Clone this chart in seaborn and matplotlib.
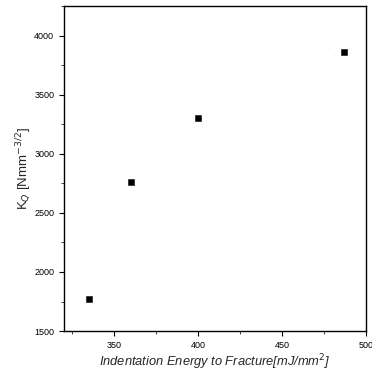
import numpy as np
import pandas as pd
import matplotlib
matplotlib.use("Agg")
import matplotlib.pyplot as plt
import seaborn as sns
from matplotlib.ticker import MultipleLocator

# measured points
energy = [335, 360, 400, 486.7]
kq = [1770, 2763, 3300, 3864]

# faint trend curve
trend_x = [341, 352, 380, 419, 450, 474, 490]
trend_y = [1990, 2440, 3000, 3432, 3640, 3788, 3880]

df = pd.DataFrame({"energy": energy, "kq": kq})

sns.set_style("ticks")
plt.rcParams['font.family'] = ['Liberation Sans', 'DejaVu Sans']

fig, ax = plt.subplots(figsize=(3.72, 3.72), dpi=100)
fig.subplots_adjust(left=0.172, right=0.984, top=0.984, bottom=0.11)

ax.plot(trend_x, trend_y, linestyle=(0, (1, 20)), color="#d4d4d4", linewidth=0.5)
sns.scatterplot(data=df, x="energy", y="kq", marker="s", s=22, color="black",
                edgecolor="black", ax=ax, zorder=3)

ax.set_xlim(320, 500)
ax.set_ylim(1500, 4250)
ax.xaxis.set_major_locator(MultipleLocator(50))
ax.xaxis.set_minor_locator(MultipleLocator(25))
ax.yaxis.set_major_locator(MultipleLocator(500))
ax.yaxis.set_minor_locator(MultipleLocator(250))
ax.tick_params(which="major", direction="out", length=3.5, width=0.8, labelsize=6.5, colors="black")
ax.tick_params(which="minor", direction="out", length=2, width=0.6)
for sp in ax.spines.values():
    sp.set_visible(True)
    sp.set_linewidth(1.0)
    sp.set_color("black")

ax.set_xlabel("Indentation Energy to Fracture[mJ/mm$^2$]", fontsize=9.3, style="italic", labelpad=2)
ax.set_ylabel("K$_Q$ [Nmm$^{-3/2}$]", fontsize=9.5, labelpad=0)

plt.savefig("out.png", dpi=100)
